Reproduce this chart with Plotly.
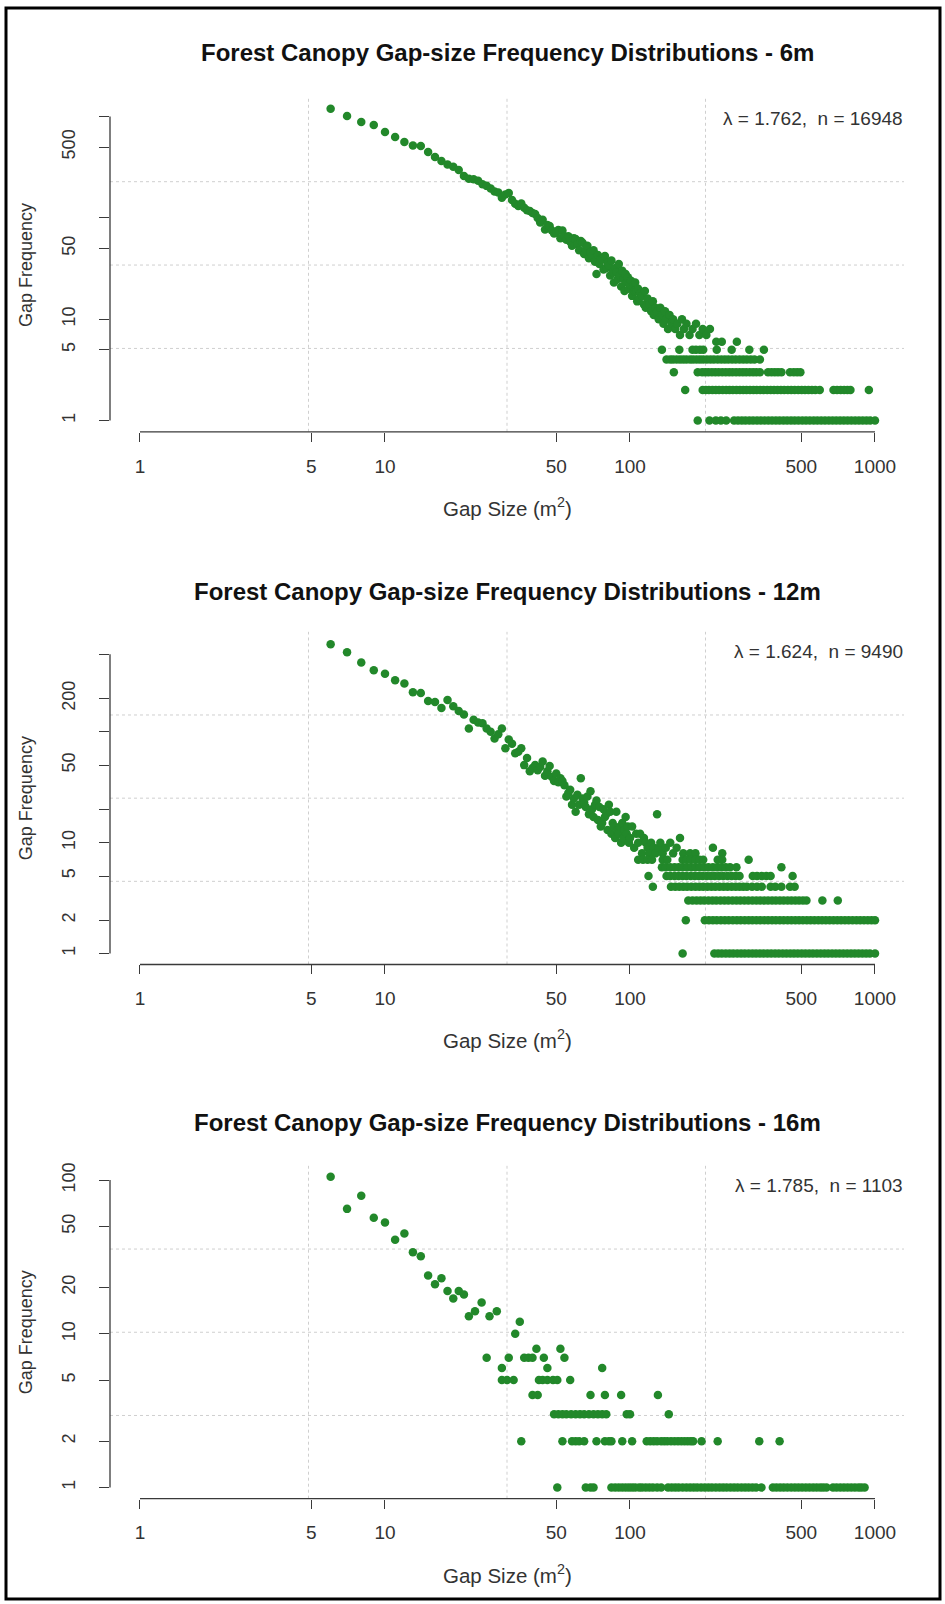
import plotly.graph_objects as go

# ---------------- data ----------------
TITLES = [
    "Forest Canopy Gap-size Frequency Distributions - 6m",
    "Forest Canopy Gap-size Frequency Distributions - 12m",
    "Forest Canopy Gap-size Frequency Distributions - 16m",
]
STATS = [
    "\u03bb = 1.762,\u00a0\u00a0n = 16948",
    "\u03bb = 1.624,\u00a0\u00a0n = 9490",
    "\u03bb = 1.785,\u00a0\u00a0n = 1103",
]
X_LABEL = "Gap Size (m<sup>2</sup>)"
Y_LABEL = "Gap Frequency"

X_TICKS = [1, 5, 10, 50, 100, 500, 1000]
X_TICKTEXT = ["1", "5", "10", "50", "100", "500", "1000"]
# labelled y ticks, and tick marks whose labels R dropped for overlap
Y_TICKS_6 = [1, 5, 10, 50, 500]
Y_MINOR_6 = [100, 1000]
Y_TICKS_12 = [1, 2, 5, 10, 50, 200]
Y_MINOR_12 = [20, 100, 500]
Y_TICKS_16 = [1, 2, 5, 10, 20, 50, 100]
Y_MINOR_16 = []

# ---- 6 m: main (scattered) part ----
size_6m = [6, 7, 8, 9, 10, 11, 12, 13, 14, 15, 16, 17, 18, 19, 20, 21, 22, 23, 24, 25,
           26, 27, 28, 29, 30, 31, 32, 33, 34, 35, 36, 37, 38, 39, 40, 41, 42, 43, 44, 45,
           46, 47, 48, 49, 50, 51, 52, 53, 54, 55, 56, 57, 58, 59, 60, 61, 62, 63, 64, 65,
           66, 67, 68, 69, 70, 71, 72, 73, 74, 75, 76, 77, 78, 79, 80, 81, 82, 83, 84, 85,
           86, 87, 88, 89, 90, 91, 92, 93, 94, 95, 96, 97, 98, 99, 100, 101, 102, 103, 104, 105,
           106, 107, 108, 109, 110, 112, 114, 115, 116, 118, 120, 122, 124, 125, 127, 129, 131, 133, 135, 137,
           139, 141, 143, 145, 148, 150, 153, 156, 160, 163, 166, 170, 175, 180, 186, 192, 198, 205, 212, 225,
           237, 273]
freq_6m = [1194, 1012, 883, 824, 703, 628, 561, 519, 512, 447, 399, 364, 337, 320, 297, 259, 244, 240, 232, 215,
           207, 195, 182, 178, 158, 170, 176, 150, 138, 131, 139, 126, 119, 117, 112, 109, 100, 90, 96, 77,
           85, 83, 75, 70, 72, 76, 63, 75, 66, 61, 66, 58, 53, 63, 62, 55, 48, 59, 57, 44,
           49, 53, 40, 46, 42, 48, 37, 28, 43, 35, 40, 39, 31, 42, 32, 36, 34, 27, 38, 29,
           23, 32, 29, 25, 35, 27, 21, 30, 25, 19, 28, 23, 26, 20, 22, 24, 17, 21, 19, 23,
           19, 15, 20, 16, 18, 17, 14, 19, 13, 16, 14, 12, 15, 11, 13, 12, 10, 13, 11, 9,
           12, 10, 8, 11, 9, 10, 8, 9, 7, 10, 8, 9, 7, 8, 9, 7, 8, 7, 8, 6,
           6, 6]
# ---- 6 m: low-frequency rows (frequency -> gap sizes) ----
rows_6m = {
    5: [135, 159, 180, 186, 193, 199, 226, 260, 307, 352],
    4: [141, 146, 150, 155, 160, 165, 170, 176, 181, 187, 193, 199, 206, 213, 220, 228, 236, 244,
        252, 261, 270, 280, 290, 300, 311, 322, 339],
    3: [151, 189, 197, 203, 209, 216, 223, 230, 238, 246, 254, 262, 271, 280, 289, 298, 308, 318,
        328, 339, 366, 378, 390, 402, 415, 450, 466, 481, 496],
    2: [168, 198, 204, 210, 217, 224, 231, 239, 247, 255, 263, 272, 281, 290, 299, 309, 319, 329,
        340, 351, 363, 375, 387, 400, 413, 426, 441, 455, 470, 486, 502, 518, 535, 553, 571, 595,
        677, 700, 724, 748, 772, 794, 944],
    1: [189, 211, 224, 235, 247, 266, 276, 286, 296, 307, 318, 330, 342, 354, 367, 380, 394, 408,
        423, 438, 454, 470, 487, 505, 523, 542, 562, 582, 603, 625, 648, 671, 695, 720, 746, 773,
        801, 830, 860, 891, 923, 956, 1000],
}

# ---- 12 m ----
size_12m = [6, 7, 8, 9, 10, 11, 12, 13, 14, 15, 16, 17, 18, 19, 20, 21, 22, 23, 24, 25,
            26, 27, 28, 29, 30, 31, 32, 33, 34, 35, 36, 37, 38, 39, 40, 41, 42, 43, 44, 45,
            46, 47, 48, 49, 50, 51, 52, 53, 54, 55, 56, 57, 58, 59, 60, 61, 62, 63, 64, 65,
            66, 67, 68, 69, 70, 71, 72, 73, 74, 75, 76, 77, 78, 79, 80, 81, 82, 83, 84, 85,
            86, 87, 88, 89, 90, 91, 92, 93, 94, 95, 96, 97, 98, 99, 100, 102, 104, 106, 108, 110,
            112, 114, 116, 118, 120, 122, 125, 127, 129, 131, 133, 136, 140, 146, 150, 155, 160, 165, 176, 185,
            218, 238]
freq_12m = [615, 522, 422, 358, 334, 291, 272, 227, 224, 189, 185, 164, 193, 170, 154, 143, 107, 128, 121, 119,
            107, 100, 87, 95, 107, 71, 85, 78, 64, 66, 71, 50, 58, 44, 47, 50, 45, 48, 54, 40,
            44, 49, 39, 36, 42, 35, 38, 36, 33, 26, 28, 30, 22, 25, 19, 27, 22, 38, 25, 23,
            21, 26, 18, 29, 20, 17, 22, 24, 16, 21, 14, 15, 20, 17, 18, 13, 22, 19, 12, 15,
            14, 11, 19, 13, 12, 14, 10, 15, 11, 13, 17, 12, 14, 10, 11, 14, 9, 12, 10, 12,
            8, 11, 10, 9, 8, 10, 9, 8, 18, 9, 10, 8, 9, 10, 8, 9, 11, 8, 8, 8,
            9, 8]
rows_12m = {
    7: [108, 113, 118, 123, 136, 142, 164, 170, 177, 185, 192, 199, 228, 238, 305],
    6: [135, 140, 146, 152, 158, 164, 171, 178, 185, 193, 201, 209, 218, 227, 236, 246, 256, 272, 415],
    5: [119, 141, 146, 152, 158, 164, 170, 177, 184, 191, 198, 206, 214, 222, 231, 240, 250, 260,
        270, 280, 317, 330, 345, 360, 375, 461],
    4: [124, 147, 153, 159, 165, 171, 178, 185, 192, 199, 207, 215, 223, 232, 241, 250, 260, 270,
        280, 290, 300, 315, 330, 345, 375, 392, 415, 450, 470],
    3: [173, 180, 187, 194, 201, 209, 217, 225, 234, 243, 252, 262, 272, 282, 293, 304, 316, 328,
        340, 353, 366, 380, 394, 409, 424, 440, 456, 473, 490, 508, 525, 610, 705],
    2: [169, 202, 210, 218, 226, 235, 244, 253, 263, 273, 283, 294, 305, 316, 328, 340, 353, 366,
        380, 394, 409, 424, 440, 456, 473, 490, 508, 527, 546, 566, 587, 608, 630, 653, 677, 702,
        727, 754, 781, 810, 840, 870, 902, 935, 968, 1000],
    1: [164, 221, 229, 237, 246, 255, 264, 274, 284, 294, 305, 316, 327, 339, 351, 364, 377, 391,
        405, 420, 435, 451, 467, 484, 502, 520, 539, 558, 579, 600, 622, 644, 668, 692, 717, 743,
        770, 798, 827, 857, 888, 920, 953, 1000],
}

# ---- 16 m ----
size_16m = [6, 7, 8, 9, 10, 11, 12, 13, 14, 15, 16, 17, 18, 19, 20, 21, 22, 23.3, 24.8, 26.7,
            28.6, 26, 30, 32, 34, 35.5, 37, 38.5, 40, 41.5, 44.5, 46, 52, 54, 77]
freq_16m = [105, 65, 79, 57, 53, 41, 45, 34, 32, 24, 21, 23, 19, 17, 19, 18, 13, 14, 16, 13,
            14, 7, 6, 7, 10, 12, 7, 7, 7, 8, 7, 6, 8, 7, 6]
rows_16m = {
    5: [30, 31.5, 33.5, 42.5, 44, 46, 48.5, 50.5, 57],
    4: [40, 42, 69, 79, 92, 130],
    3: [49, 51, 53, 55, 57.5, 60, 62.5, 65, 68, 71, 74, 77, 80, 97, 100, 144],
    2: [36, 53, 58, 60, 62, 65, 73, 79, 82, 84, 93, 102, 117, 121, 125, 129, 134, 138, 142, 147,
        152, 157, 162, 167, 172, 177, 181, 196, 228, 337, 408],
    1: [50.5, 66, 69, 71, 84, 87, 90, 93, 96, 99, 102, 105, 109, 112, 116, 120, 124, 129, 134, 143,
        148, 153, 158, 164, 170, 176, 182, 188, 195, 202, 209, 216, 224, 232, 240, 248, 257, 266,
        275, 285, 295, 305, 316, 327, 344, 383, 396, 410, 424, 439, 455, 471, 487, 504, 522, 540,
        559, 578, 598, 615, 634, 674, 697, 722, 747, 773, 800, 828, 857, 880, 907],
}

# ---------------- layout (pixels) ----------------
W, H = 945, 1604
X_LEFT, X_RIGHT = 110, 904
X_RANGE = [-0.1224, 3.1184]
PANELS = [
    dict(sizes=size_6m, freqs=freq_6m, rows=rows_6m, top=95.5, bottom=429.6,
         yrange=[-0.111, 3.180], yticks=Y_TICKS_6, yminor=Y_MINOR_6, ytop=1000, title_y=50),
    dict(sizes=size_12m, freqs=freq_12m, rows=rows_12m, top=630, bottom=963.3,
         yrange=[-0.099, 2.901], yticks=Y_TICKS_12, yminor=Y_MINOR_12, ytop=500, title_y=590),
    dict(sizes=size_16m, freqs=freq_16m, rows=rows_16m, top=1165, bottom=1498.5,
         yrange=[-0.0727, 2.093], yticks=Y_TICKS_16, yminor=Y_MINOR_16, ytop=100, title_y=1122),
]

GREEN = "#22882a"
AXIS_COL = "#3a3a3a"
TEXT_COL = "#333333"
GRID_COL = "#cfcfcf"
FONT = "Liberation Sans, Arial, sans-serif"


def fy(p):
    return 1 - p / H


def fx(p):
    return p / W


fig = go.Figure()
layout = dict(
    width=W, height=H, margin=dict(l=0, r=0, t=0, b=0),
    paper_bgcolor="white", plot_bgcolor="white", showlegend=False,
    font=dict(family=FONT, color=TEXT_COL),
)
shapes = []
annotations = []

for i, p in enumerate(PANELS):
    s = "" if i == 0 else str(i + 1)
    xs = list(p["sizes"])
    ys = list(p["freqs"])
    for f, sz in p["rows"].items():
        xs += sz
        ys += [f] * len(sz)
    fig.add_trace(go.Scatter(
        x=xs, y=ys, mode="markers", xaxis="x" + s, yaxis="y" + s,
        marker=dict(color=GREEN, size=8.5, line=dict(width=0)),
        cliponaxis=False, hoverinfo="x+y",
    ))
    layout["xaxis" + s] = dict(
        type="log", range=X_RANGE, domain=[fx(X_LEFT), fx(X_RIGHT)], anchor="y" + s,
        showgrid=False, zeroline=False, showline=False,
        ticks="outside", ticklen=9, tickwidth=1.3, tickcolor=AXIS_COL,
        tickvals=X_TICKS, ticktext=X_TICKTEXT, ticklabelstandoff=8,
        tickfont=dict(size=19, color=TEXT_COL, family=FONT),
    )
    yaxis = dict(
        type="log", range=p["yrange"], domain=[fy(p["bottom"]), fy(p["top"])], anchor="x" + s,
        showgrid=False, zeroline=False, showline=False,
        ticks="outside", ticklen=10, tickwidth=1.3, tickcolor=AXIS_COL,
        tickvals=p["yticks"], ticktext=[str(v) for v in p["yticks"]],
        tickangle=-90, ticklabelstandoff=17,
        tickfont=dict(size=18, color=TEXT_COL, family=FONT),
    )
    if p["yminor"]:
        yaxis["minor"] = dict(tickvals=p["yminor"], ticks="outside", ticklen=10,
                              tickwidth=1.3, tickcolor=AXIS_COL, showgrid=False)
    layout["yaxis" + s] = yaxis
    # axis lines spanning first..last tick
    shapes.append(dict(type="line", xref="x" + s, yref="y" + s + " domain",
                       x0=X_TICKS[0], x1=X_TICKS[-1], y0=0, y1=0,
                       line=dict(color=AXIS_COL, width=1.3)))
    shapes.append(dict(type="line", xref="x" + s + " domain", yref="y" + s,
                       x0=0, x1=0, y0=1, y1=p["ytop"],
                       line=dict(color=AXIS_COL, width=1.3)))
    # dotted grid (quarters of plot region)
    for q in (0.25, 0.5, 0.75):
        shapes.append(dict(type="line", xref="x" + s + " domain", yref="y" + s + " domain",
                           x0=q, x1=q, y0=0, y1=1, layer="below",
                           line=dict(color=GRID_COL, width=1, dash="dot")))
        shapes.append(dict(type="line", xref="x" + s + " domain", yref="y" + s + " domain",
                           x0=0, x1=1, y0=q, y1=q, layer="below",
                           line=dict(color=GRID_COL, width=1, dash="dot")))
    cx = (X_LEFT + X_RIGHT) / 2
    annotations.append(dict(text="<b>" + TITLES[i] + "</b>", xref="paper", yref="paper",
                            x=fx(cx), y=fy(p["title_y"]), xanchor="center", yanchor="middle",
                            showarrow=False, font=dict(size=24, color="#111111", family=FONT)))
    annotations.append(dict(text=STATS[i], xref="paper", yref="paper",
                            x=fx(905), y=fy(p["top"] + 20), xanchor="right", yanchor="middle",
                            showarrow=False, font=dict(size=19, color=TEXT_COL, family=FONT)))
    annotations.append(dict(text=X_LABEL, xref="paper", yref="paper",
                            x=fx(cx), y=fy(p["bottom"] + 75), xanchor="center", yanchor="middle",
                            showarrow=False, font=dict(size=20.5, color=TEXT_COL, family=FONT)))
    annotations.append(dict(text=Y_LABEL, xref="paper", yref="paper", textangle=-90,
                            x=fx(26), y=fy((p["top"] + p["bottom"]) / 2),
                            xanchor="center", yanchor="middle",
                            showarrow=False, font=dict(size=18, color=TEXT_COL, family=FONT)))

# outer frame
shapes.append(dict(type="rect", xref="paper", yref="paper",
                   x0=fx(6), x1=fx(940), y0=fy(1599), y1=fy(5),
                   line=dict(color="black", width=3)))

layout["shapes"] = shapes
layout["annotations"] = annotations
fig.update_layout(**layout)
fig.write_html("out.html")
